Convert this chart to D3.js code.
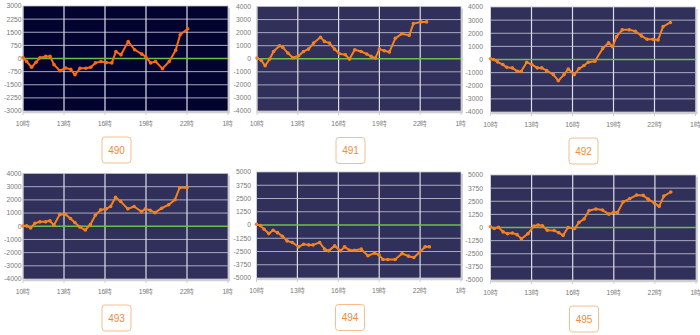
<!DOCTYPE html>
<html><head><meta charset="utf-8">
<script src="https://cdn.jsdelivr.net/npm/d3@7"></script>
<style>html,body{margin:0;padding:0;background:#fff;}svg{display:block;}</style>
</head><body>
<svg id="c" width="700" height="335"></svg>
<script>
// ---- data ----
const xTickValues = [10, 13, 16, 19, 22, 25];
const xTickLabels = ["10時", "13時", "16時", "19時", "22時", "1時"];
const panelNames = ["490", "491", "492", "493", "494", "495"];
const yMaxes = [3000, 4000, 4000, 4000, 5000, 5000];
const ySteps = [750, 1000, 1000, 1000, 1250, 1250];

const hours490 = [10.0,10.27,10.63,10.95,11.24,11.66,11.98,12.27,12.7,13.12,13.49,13.8,14.17,14.6,14.95,15.3,15.7,16.1,16.5,16.8,17.17,17.7,18.17,18.7,18.98,19.34,19.7,20.2,20.7,21.17,21.5,22.05];
const values490 = [50,-175,-500,-215,40,120,120,-350,-700,-540,-620,-930,-560,-560,-500,-250,-175,-230,-250,400,210,970,500,250,100,-250,-175,-580,-175,465,1360,1700];

const hours491 = [10.0,10.32,10.6,10.93,11.22,11.66,11.9,12.27,12.64,13.06,13.42,13.79,14.16,14.67,14.96,15.33,15.7,16.06,16.5,16.8,17.19,17.65,18.07,18.39,18.7,19.0,19.36,19.73,20.17,20.66,21.19,21.5,22.05,22.47];
const values491 = [50,-130,-540,-25,560,1000,870,435,75,230,560,740,1200,1640,1330,1200,740,385,310,-25,690,560,360,180,50,740,610,510,1560,1920,1790,2690,2820,2820];

const hours492 = [10.0,10.22,10.51,10.9,11.19,11.6,11.97,12.24,12.65,13.02,13.43,13.75,14.11,14.6,14.96,15.38,15.69,16.13,16.48,16.84,17.15,17.64,18.2,18.64,18.93,19.22,19.64,20.15,20.6,21.05,21.46,21.9,22.26,22.63,23.16];
const values492 = [50,0,-180,-385,-590,-640,-900,-920,-205,-385,-640,-640,-850,-1150,-1615,-1150,-720,-1150,-690,-460,-205,-130,820,1280,970,1740,2260,2260,2150,1800,1540,1540,1490,2510,2820];

const hours493 = [10.0,10.27,10.56,10.87,11.24,11.65,11.97,12.26,12.69,13.11,13.47,13.79,14.15,14.56,14.93,15.29,15.68,16.09,16.41,16.77,17.14,17.67,18.13,18.67,18.96,19.3,19.66,20.15,20.66,21.12,21.46,22.0];
const values493 = [25,25,-130,230,335,335,410,75,900,900,590,285,-50,-285,130,825,1240,1320,1500,2200,1890,1320,1500,1110,1320,1215,1030,1370,1630,2015,2920,2920];

const hours494 = [10.0,10.29,10.56,10.9,11.22,11.54,11.9,12.24,12.63,13.1,13.46,13.83,14.15,14.63,15.0,15.29,15.73,16.17,16.46,16.83,17.2,17.68,18.17,18.66,18.98,19.27,19.63,20.17,20.68,21.15,21.54,21.95,22.37,22.68];
const values494 = [60,-60,-400,-810,-500,-720,-1060,-1500,-1650,-2060,-1810,-1875,-1875,-1650,-2280,-2440,-1970,-2440,-2060,-2375,-2375,-2280,-2900,-2650,-2810,-3250,-3250,-3250,-2690,-2940,-3060,-2590,-2060,-2060];

const hours495 = [10.0,10.27,10.58,10.92,11.24,11.6,11.94,12.26,12.74,13.16,13.47,13.79,14.15,14.65,14.98,15.3,15.66,16.14,16.46,16.83,17.2,17.69,18.17,18.64,19.0,19.27,19.68,20.17,20.66,21.15,21.51,21.95,22.31,22.65,23.16];
const values495 = [65,-100,30,-420,-585,-520,-680,-1070,-585,130,230,160,-260,-290,-490,-750,0,-100,490,810,1625,1755,1660,1270,1460,1430,2440,2760,3090,3055,2700,2340,2015,2990,3380];

const allHours = [hours490, hours491, hours492, hours493, hours494, hours495];
const allValues = [values490, values491, values492, values493, values494, values495];

// ---- layout / style ----
const layout = [
  {x0:23,  x1:228,   y0:6,     y1:111, lab:21.5, box:[102,137,29,26], bg:"#03032f", line:"#ff6a10"},
  {x0:257, x1:461,   y0:6.5,   y1:111, lab:251,  box:[336,137.5,29,26], bg:"#30305b", line:"#f5821f"},
  {x0:490.5,x1:695.5,y0:7,     y1:112, lab:483,  box:[569,138,29,26], bg:"#30305b", line:"#f5821f"},
  {x0:23,  x1:228,   y0:173.5, y1:279, lab:21.5, box:[102,305,29,26], bg:"#30305b", line:"#f5821f"},
  {x0:256.5,x1:461,  y0:172,   y1:278, lab:251,  box:[335.5,304.5,29,26], bg:"#30305b", line:"#f5821f"},
  {x0:490.5,x1:696,  y0:175,   y1:280, lab:483,  box:[569.5,306,29,26], bg:"#30305b", line:"#f5821f"}
];

const svg = d3.select("#c");
const font = "'Liberation Sans', Arial, sans-serif";

layout.forEach((L, i) => {
  const g = svg.append("g");
  const x = d3.scaleLinear().domain([10, 25]).range([L.x0, L.x1]);
  const y = d3.scaleLinear().domain([-yMaxes[i], yMaxes[i]]).range([L.y1, L.y0]);
  const yTicks = d3.range(-yMaxes[i], yMaxes[i] + 1, ySteps[i]);

  // shadow
  g.append("rect").attr("x", L.x0 + 2).attr("y", L.y0 + 2)
    .attr("width", L.x1 - L.x0).attr("height", L.y1 - L.y0).attr("fill", "#d6d6d6");
  // background
  g.append("rect").attr("x", L.x0).attr("y", L.y0)
    .attr("width", L.x1 - L.x0).attr("height", L.y1 - L.y0).attr("fill", L.bg)
    .attr("stroke", "#bdbdc8").attr("stroke-width", 0.8);

  // horizontal grid
  g.append("g").selectAll("line").data(yTicks.filter(v => v !== 0 && Math.abs(v) !== yMaxes[i])).join("line")
    .attr("x1", L.x0).attr("x2", L.x1)
    .attr("y1", d => y(d)).attr("y2", d => y(d))
    .attr("stroke", "#a9a9bf").attr("stroke-width", 1);
  // vertical grid
  g.append("g").selectAll("line").data(xTickValues.slice(1, -1)).join("line")
    .attr("x1", d => x(d)).attr("x2", d => x(d))
    .attr("y1", L.y0).attr("y2", L.y1)
    .attr("stroke", "#dcdce6").attr("stroke-width", 1.2);

  // zero line
  g.append("line").attr("x1", L.x0).attr("x2", L.x1).attr("y1", y(0)).attr("y2", y(0))
    .attr("stroke", "#6cc04a").attr("stroke-width", 1.5);

  // axes lines
  g.append("line").attr("x1", L.x0).attr("x2", L.x0).attr("y1", L.y0).attr("y2", L.y1)
    .attr("stroke", "#cfcfcf").attr("stroke-width", 1);
  g.append("line").attr("x1", L.x0).attr("x2", L.x1 + 2).attr("y1", L.y1 + 1.5).attr("y2", L.y1 + 1.5)
    .attr("stroke", "#d0d0d0").attr("stroke-width", 1.5);
  g.append("g").selectAll("line").data(xTickValues).join("line")
    .attr("x1", d => x(d)).attr("x2", d => x(d))
    .attr("y1", L.y1).attr("y2", L.y1 + 4)
    .attr("stroke", "#cfcfcf").attr("stroke-width", 1);

  // y labels
  g.append("g").selectAll("text").data(yTicks).join("text")
    .attr("x", L.lab).attr("y", d => y(d)).attr("dy", "0.35em")
    .attr("text-anchor", "end").attr("font-family", font).attr("font-size", 6.8)
    .attr("fill", "#7a7a7a").text(d => String(d));
  // x labels
  g.append("g").selectAll("text").data(xTickValues).join("text")
    .attr("x", d => x(d)).attr("y", L.y1 + 13).attr("dy", "0.35em")
    .attr("text-anchor", "middle").attr("font-family", font).attr("font-size", 6.8)
    .attr("fill", "#7a7a7a").text((d, k) => xTickLabels[k]);

  // series
  const pts = allHours[i].map((h, k) => [h, allValues[i][k]]);
  g.append("path").datum(pts)
    .attr("d", d3.line().x(d => x(d[0])).y(d => y(d[1])))
    .attr("fill", "none").attr("stroke", L.line).attr("stroke-width", 2)
    .attr("stroke-linejoin", "round");
  g.append("g").selectAll("circle").data(pts).join("circle")
    .attr("cx", d => x(d[0])).attr("cy", d => y(d[1])).attr("r", 1.8)
    .attr("fill", L.line);

  // name box
  const [bx, by, bw, bh] = L.box;
  g.append("rect").attr("x", bx).attr("y", by).attr("width", bw).attr("height", bh)
    .attr("rx", 3).attr("fill", "#fff").attr("stroke", "#f8bd8f").attr("stroke-width", 1);
  g.append("text").attr("x", bx + bw / 2).attr("y", by + bh / 2).attr("dy", "0.35em")
    .attr("text-anchor", "middle").attr("font-family", font).attr("font-size", 10)
    .attr("fill", "#f08a3c").text(panelNames[i]);
});
</script>
</body></html>
